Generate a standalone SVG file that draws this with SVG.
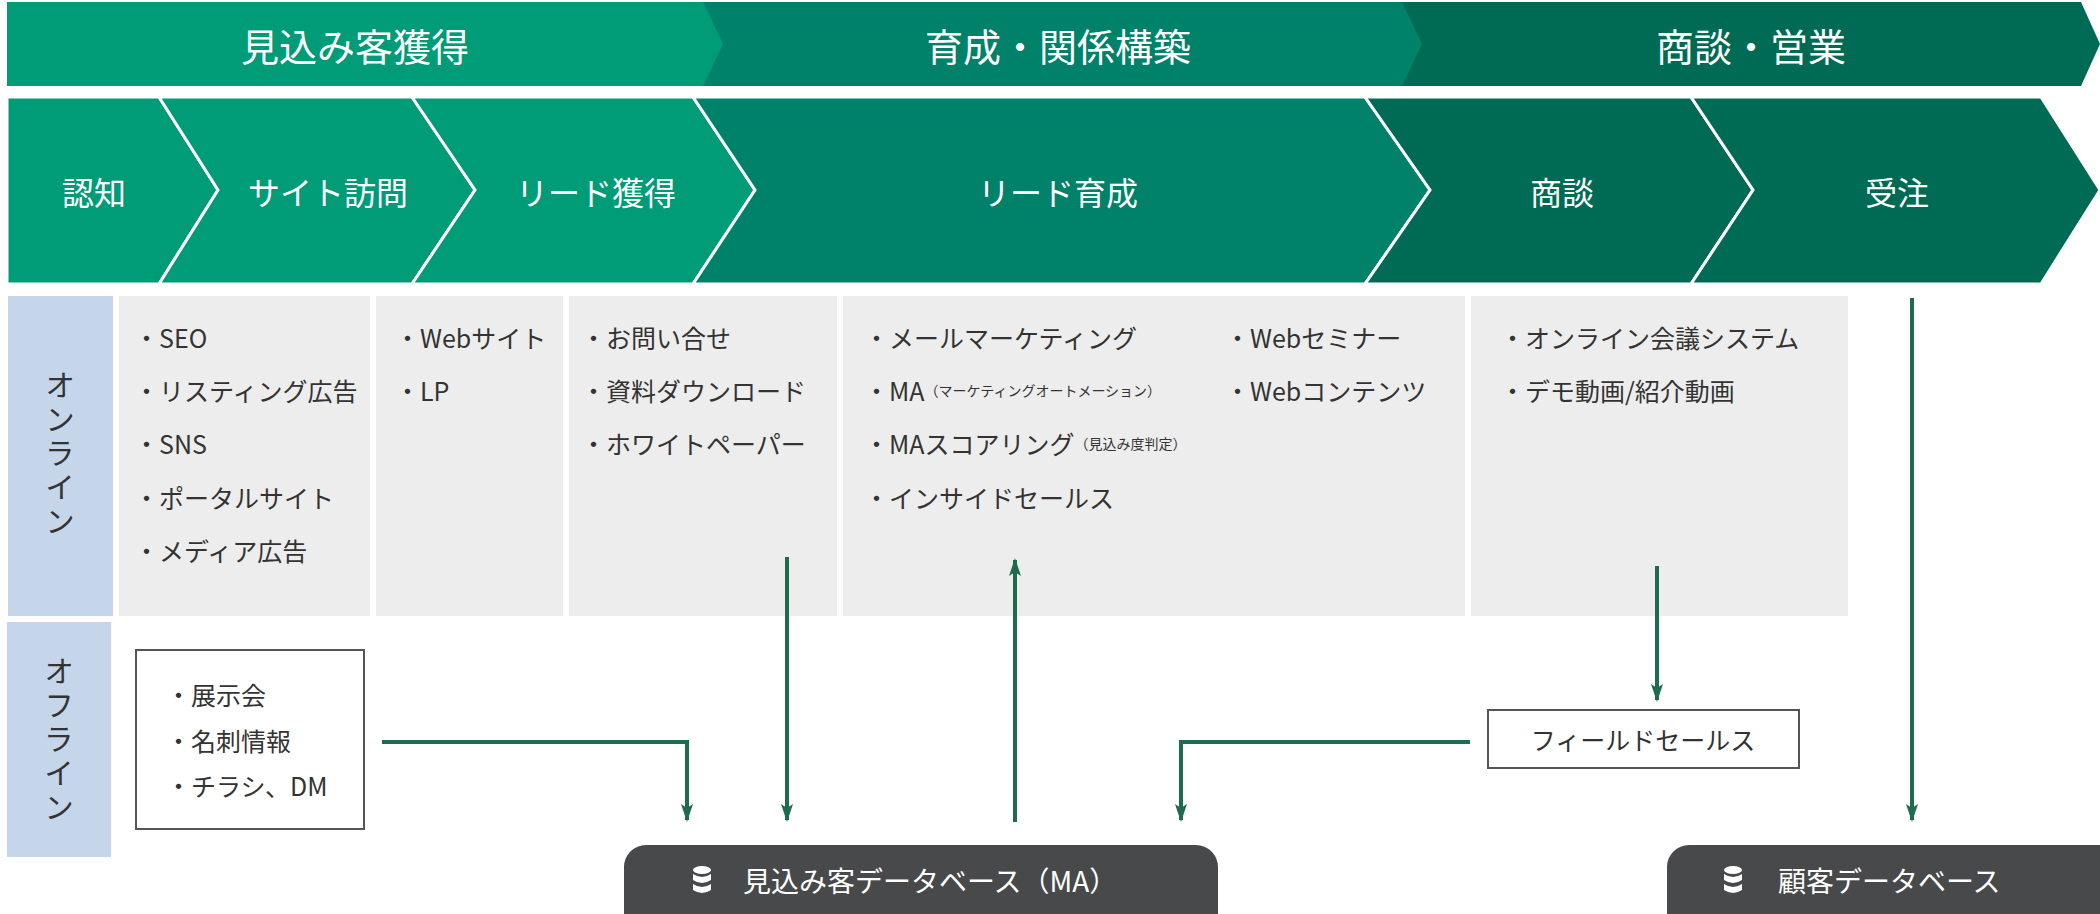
<svg xmlns="http://www.w3.org/2000/svg" width="2100" height="914" viewBox="0 0 2100 914">
<style>
text{font-family:"Noto Sans CJK JP","Noto Sans",sans-serif}
.hw{fill:#fff;font-size:38px;text-anchor:middle;dominant-baseline:central}
.sw{fill:#fff;font-size:32px;text-anchor:middle;dominant-baseline:central}
.it{fill:#333;font-size:25px;dominant-baseline:central}
.sm{font-size:14px}
.lab{fill:#333;font-size:30px;writing-mode:vertical-rl;letter-spacing:4px}
.c1{fill:#009B77}.c2{fill:#00826A}.c3{fill:#006B55}
.st{stroke:#fff;stroke-width:3}
.panel{fill:#EDEDED}.side{fill:#C5D5EA}
.con{stroke:#1F6B50;stroke-width:4;fill:none}
.db{fill:#48494B}
.dbt{fill:#fff;font-size:28px;dominant-baseline:central}
</style>
<defs>
<marker id="ah" markerWidth="18" markerHeight="12" refX="16" refY="6" orient="auto" markerUnits="userSpaceOnUse" viewBox="0 0 18 12">
<path d="M0,0 L18,6 L0,12 L4,6 Z" fill="#1F6B50"/>
</marker>
<g id="dbi"><g fill="#fff">
<ellipse cx="0" cy="-10" rx="9" ry="4"/>
<path d="M-9,-6 Q0,0 9,-6 V0 Q0,6 -9,0 Z"/>
<path d="M-9,4 Q0,10 9,4 V10 Q0,16 -9,10 Z"/>
</g></g>
</defs>

<g id="phase-bar">
<path class="c3" d="M1402,2 H2081 L2100,44 L2081,86 H1402 Z"/>
<path class="c2" d="M703,2 H1402 L1422,44 L1402,86 H703 Z"/>
<path class="c1" d="M7,2 H703 L723,44 L703,86 H7 Z"/>
<text class="hw" x="355" y="44">見込み客獲得</text>
<text class="hw" x="1058" y="44">育成・関係構築</text>
<text class="hw" x="1751" y="44">商談・営業</text>
</g>

<g id="stages">
<g id="s1"><path class="c1 st" d="M7,97 H159 L218,190 L159,284 H7 Z"/><text class="sw" x="94" y="191">認知</text></g>
<g id="s2"><path class="c1 st" d="M159,97 H412 L475,190 L412,284 H159 L218,190 Z"/><text class="sw" x="328" y="191">サイト訪問</text></g>
<g id="s3"><path class="c1 st" d="M412,97 H693 L755,190 L693,284 H412 L475,190 Z"/><text class="sw" x="596" y="191">リード獲得</text></g>
<g id="s4"><path class="c2 st" d="M693,97 H1365 L1430,190 L1365,284 H693 L755,190 Z"/><text class="sw" x="1058" y="191">リード育成</text></g>
<g id="s5"><path class="c3 st" d="M1365,97 H1691 L1753,190 L1691,284 H1365 L1430,190 Z"/><text class="sw" x="1562" y="191">商談</text></g>
<g id="s6"><path class="c3 st" d="M1691,97 H2041 L2100,190 L2041,284 H1691 L1753,190 Z"/><text class="sw" x="1897" y="191">受注</text></g>
</g>

<g id="online-label"><rect class="side" x="8" y="296" width="105" height="320"/>
<text class="lab" x="60" y="370">オンライン</text></g>
<g id="offline-label"><rect class="side" x="7" y="622" width="104" height="235"/>
<text class="lab" x="59" y="656">オフライン</text></g>

<g id="p1"><rect class="panel" x="119" y="296" width="251" height="320"/>
<text class="it" x="134" y="337">・SEO</text><text class="it" x="134" y="390">・リスティング広告</text><text class="it" x="134" y="443">・SNS</text><text class="it" x="134" y="497">・ポータルサイト</text><text class="it" x="134" y="550">・メディア広告</text></g>
<g id="p2"><rect class="panel" x="376" y="296" width="187" height="320"/>
<text class="it" x="395" y="337">・Webサイト</text><text class="it" x="395" y="390">・LP</text></g>
<g id="p3"><rect class="panel" x="569" y="296" width="268" height="320"/>
<text class="it" x="581" y="337">・お問い合せ</text><text class="it" x="581" y="390">・資料ダウンロード</text><text class="it" x="581" y="443">・ホワイトペーパー</text></g>
<g id="p4"><rect class="panel" x="843" y="296" width="622" height="320"/>
<text class="it" x="864" y="337">・メールマーケティング</text>
<text class="it" x="864" y="390">・MA<tspan class="sm">（マーケティングオートメーション）</tspan></text>
<text class="it" x="864" y="443">・MAスコアリング<tspan class="sm">（見込み度判定）</tspan></text>
<text class="it" x="864" y="497">・インサイドセールス</text>
<text class="it" x="1225" y="337">・Webセミナー</text><text class="it" x="1225" y="390">・Webコンテンツ</text></g>
<g id="p5"><rect class="panel" x="1471" y="296" width="377" height="320"/>
<text class="it" x="1500" y="337">・オンライン会議システム</text><text class="it" x="1500" y="390">・デモ動画/紹介動画</text></g>

<g id="offline-box"><rect x="136" y="650" width="228" height="179" fill="#fff" stroke="#555" stroke-width="2"/>
<text class="it" x="166" y="694">・展示会</text><text class="it" x="166" y="740">・名刺情報</text><text class="it" x="166" y="785">・チラシ、DM</text></g>

<g id="field-sales"><rect x="1488" y="710" width="311" height="58" fill="#fff" stroke="#555" stroke-width="2"/>
<text class="it" x="1643" y="739" text-anchor="middle">フィールドセールス</text></g>

<g id="db1"><rect class="db" x="624" y="845" width="594" height="90" rx="22"/><use href="#dbi" x="702" y="880"/><text class="dbt" x="743" y="880">見込み客データベース（MA）</text></g>
<g id="db2"><rect class="db" x="1667" y="845" width="460" height="90" rx="22"/><use href="#dbi" x="1733" y="880"/><text class="dbt" x="1778" y="880">顧客データベース</text></g>

<g id="connectors">
<path class="con" d="M382,742 H687 V820" marker-end="url(#ah)"/>
<path class="con" d="M787,557 V820" marker-end="url(#ah)"/>
<path class="con" d="M1015,822 V560" marker-end="url(#ah)"/>
<path class="con" d="M1657,566 V700" marker-end="url(#ah)"/>
<path class="con" d="M1470,742 H1181 V820" marker-end="url(#ah)"/>
<path class="con" d="M1912,298 V820" marker-end="url(#ah)"/>
</g>
</svg>
